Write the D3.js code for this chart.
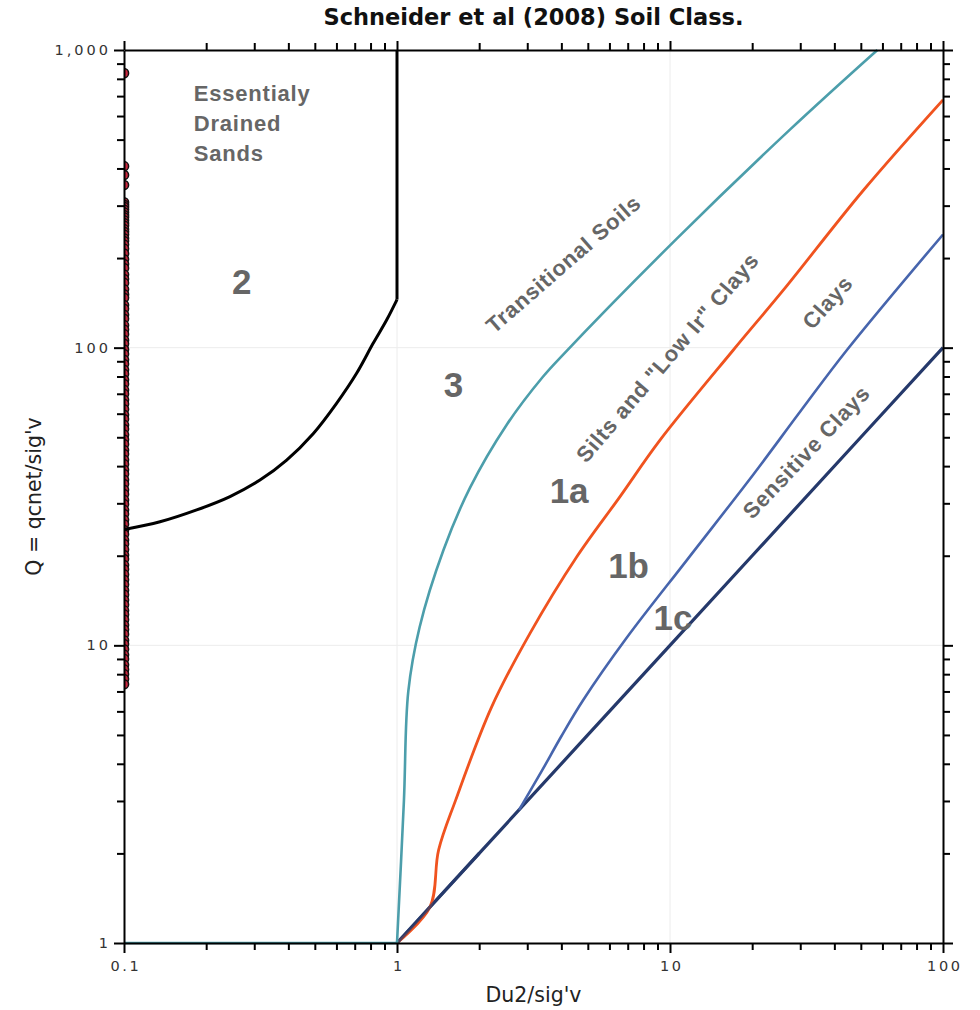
<!DOCTYPE html>
<html>
<head>
<meta charset="utf-8">
<script src="https://cdn.jsdelivr.net/npm/d3@7/dist/d3.min.js"></script>
<style>
  html, body { margin: 0; padding: 0; background: #fff; }
  svg { display: block; }
</style>
</head>
<body>
<svg id="chart" width="980" height="1010"></svg>
<script>
// ---- Axis tick values and labels ----
const xTickValues = [0.1, 1, 10, 100];
const xTickLabels = ["0.1", "1", "10", "100"];
const yTickValues = [1, 10, 100, 1000];
const yTickLabels = ["1", "10", "100", "1,000"];

// ---- Zone boundaries (x = Du2/sig'v, q = Q) ----
// Boundary of zone 2 (essentially drained sands)
const sandBoundaryX = [0.1, 0.1355, 0.1846, 0.2445, 0.3148, 0.3943, 0.494, 0.6007, 0.7113, 0.8178, 0.9162, 1.0];
const sandBoundaryQ = [24.5, 26.0, 28.5, 31.6, 35.9, 41.9, 51.5, 65.0, 82.0, 103.4, 123.8, 145];
const sandWallX = [1, 1];
const sandWallQ = [145, 1000];

// Zone 3 / 1a : transitional soils boundary (flat base, then the curve)
const transitionalBaseX = [0.1, 1.0];
const transitionalBaseQ = [1, 1];
const transitionalX = [1.0, 1.06, 1.1, 1.21, 1.48, 1.85, 2.52, 3.43, 4.07, 10.57, 27.5, 57.5];
const transitionalQ = [1, 3.0, 7.0, 11.5, 20.9, 33.8, 55.0, 80, 95, 232, 540, 1000];

// Zone 1a / 1b : silts and "low Ir" clays boundary
const siltsX = [1.0, 1.32, 1.42, 1.64, 2.22, 3.07, 4.55, 6.56, 9.19, 17.06, 26.0, 51.1, 100];
const siltsQ = [1.0, 1.32, 2.05, 3.02, 6.2, 10.97, 19.8, 31.6, 48.9, 98.2, 156, 338, 680];

// Zone 1b / 1c : clays boundary
const claysX = [2.8, 3.4, 4.0, 4.81, 6.94, 11.51, 20.2, 30, 44.4, 100];
const claysQ = [2.8, 3.8, 4.95, 6.55, 10.6, 19.3, 37.5, 61, 98, 240];

// Lower limit of zone 1c : sensitive clays
const sensitiveX = [1, 2, 5, 10, 20, 50, 100];
const sensitiveQ = [1, 2, 5, 10, 20, 50, 100];

// ---- Measured CPT points ----
const dataQ = [836, 407, 380, 352,
  308, 302, 297, 291, 285, 279, 274, 268, 262, 257, 250, 245, 240, 233, 228, 222,
  215, 207, 198, 191, 185, 176, 170,
  165, 157, 151, 147, 139, 135, 129, 125, 119, 115, 111, 106, 103, 98.5, 95.2, 91.0,
  88.1, 84.3, 81.6, 78.0, 75.5, 72.1, 69.9, 66.8, 64.7, 62.1, 59.5, 57.6, 55.0, 53.3,
  51.0, 49.1, 47.4, 45.3, 43.9, 42.0, 40.6, 38.9, 37.6, 36.0, 34.8, 33.3, 32.2, 30.8,
  29.8, 28.5, 27.6, 26.4, 25.5, 24.4, 23.6, 22.6, 21.9, 21.0, 20.1, 19.5, 18.6, 18.0,
  17.3, 16.6, 16.0, 15.3, 14.8, 14.2, 13.7, 13.1, 12.7, 12.2, 11.7, 11.3, 10.9, 10.4,
  10.1, 9.7, 9.3, 9.0, 8.6, 8.3, 8.0, 7.7, 7.4];
const dataX = dataQ.map(() => 0.1);

// ---- Region labels ----
const zoneNumbers = [
  { text: "2", x: 0.27, q: 167 },
  { text: "3", x: 1.61, q: 75 },
  { text: "1a", x: 4.27, q: 33.2 },
  { text: "1b", x: 7.05, q: 18.6 },
  { text: "1c", x: 10.25, q: 12.4 }
];
const drainedLines = ["Essentialy", "Drained", "Sands"];
const zoneNames = [
  { text: "Transitional Soils", x: 4.07, q: 191, angle: -41 },
  { text: "Silts and \"Low Ir\" Clays", x: 9.79, q: 92.6, angle: -49.4 },
  { text: "Clays", x: 37.8, q: 142, angle: -48 },
  { text: "Sensitive Clays", x: 31.6, q: 44.6, angle: -46.6 }
];

// ---- Layout ----
const svg = d3.select("#chart");
const plotLeft = 124, plotRight = 943, plotTop = 50, plotBottom = 943;

const x = d3.scaleLog().domain([0.1, 100]).range([plotLeft, plotRight]);
const y = d3.scaleLog().domain([1, 1000]).range([plotBottom, plotTop]);

const zip = (xs, qs) => xs.map((v, i) => ({ x: v, q: qs[i] }));

// faint decade grid
const gridG = svg.append("g").attr("stroke", "#ececec").attr("stroke-width", 1);
gridG.selectAll("line.gx").data(xTickValues.slice(1, -1)).join("line").attr("class", "gx")
  .attr("x1", d => x(d)).attr("x2", d => x(d)).attr("y1", plotTop).attr("y2", plotBottom);
gridG.selectAll("line.gy").data(yTickValues.slice(1, -1)).join("line").attr("class", "gy")
  .attr("y1", d => y(d)).attr("y2", d => y(d)).attr("x1", plotLeft).attr("x2", plotRight);

// clip region for plotted marks
svg.append("defs").append("clipPath").attr("id", "plotClip")
  .append("rect").attr("x", plotLeft).attr("y", plotTop - 2)
  .attr("width", plotRight - plotLeft).attr("height", plotBottom - plotTop + 4);

const plot = svg.append("g").attr("clip-path", "url(#plotClip)");

const lineSmooth = d3.line().x(d => x(d.x)).y(d => y(d.q)).curve(d3.curveCatmullRom.alpha(0.5));
const lineLin = d3.line().x(d => x(d.x)).y(d => y(d.q));

// measured points (half hidden by the left edge)
plot.append("g").selectAll("circle").data(zip(dataX, dataQ)).join("circle")
  .attr("cx", d => x(d.x)).attr("cy", d => y(d.q)).attr("r", 4.6)
  .attr("fill", "#c9283f").attr("stroke", "#111").attr("stroke-width", 1.5);

// zone boundaries
plot.append("path").datum(zip(sensitiveX, sensitiveQ)).attr("d", lineLin)
  .attr("fill", "none").attr("stroke", "#25396b").attr("stroke-width", 3.2);
plot.append("path").datum(zip(claysX, claysQ)).attr("d", lineSmooth)
  .attr("fill", "none").attr("stroke", "#4765ad").attr("stroke-width", 2.6);
plot.append("path").datum(zip(siltsX, siltsQ)).attr("d", lineSmooth)
  .attr("fill", "none").attr("stroke", "#f0531f").attr("stroke-width", 2.8);
// shared start of the sensitive clay line drawn again on top
plot.append("path").datum(zip(sensitiveX, sensitiveQ).slice(0, 2)).attr("d", lineLin)
  .attr("fill", "none").attr("stroke", "#25396b").attr("stroke-width", 3.2).attr("opacity", 0.75);
plot.append("path").datum(zip(transitionalBaseX, transitionalBaseQ)).attr("d", lineLin)
  .attr("fill", "none").attr("stroke", "#4c9eab").attr("stroke-width", 2.6);
plot.append("path").datum(zip(transitionalX, transitionalQ)).attr("d", lineSmooth)
  .attr("fill", "none").attr("stroke", "#4c9eab").attr("stroke-width", 2.6);
plot.append("path").datum(zip(sandBoundaryX, sandBoundaryQ)).attr("d", lineSmooth)
  .attr("fill", "none").attr("stroke", "#000").attr("stroke-width", 3);
plot.append("path").datum(zip(sandWallX, sandWallQ)).attr("d", lineLin)
  .attr("fill", "none").attr("stroke", "#000").attr("stroke-width", 3);

// ---- Axes ----
const minorX = [];
[0.1, 1, 10].forEach(d => { for (let k = 2; k <= 9; k++) minorX.push(d * k); });
const minorY = [];
[1, 10, 100].forEach(d => { for (let k = 2; k <= 9; k++) minorY.push(d * k); });

function styleAxis(g) {
  g.select(".domain").attr("stroke", "#000").attr("stroke-width", 2);
  g.selectAll(".tick line").attr("stroke", "#000").attr("stroke-width", 2);
}
function minorStyle(g) {
  g.select(".domain").remove();
  g.selectAll(".tick line").attr("stroke", "#000").attr("stroke-width", 2);
}

const tickFont = "DejaVu Sans, Verdana, sans-serif";

// bottom
const bx = svg.append("g").attr("transform", `translate(0,${plotBottom})`)
  .call(d3.axisBottom(x).tickValues(xTickValues).tickSizeInner(10).tickSizeOuter(0)
    .tickFormat((d, i) => xTickLabels[i]).tickPadding(8));
styleAxis(bx);
bx.selectAll("text").attr("font-family", tickFont).attr("font-size", 14.5)
  .attr("letter-spacing", "2.6px").attr("fill", "#333").attr("dx", "1.3px");
svg.append("g").attr("transform", `translate(0,${plotBottom})`)
  .call(d3.axisBottom(x).tickValues(minorX).tickSizeInner(7).tickSizeOuter(0).tickFormat(""))
  .call(minorStyle);

// top
const tx = svg.append("g").attr("transform", `translate(0,${plotTop})`)
  .call(d3.axisTop(x).tickValues(xTickValues).tickSizeInner(9).tickSizeOuter(0).tickFormat(""));
styleAxis(tx);
svg.append("g").attr("transform", `translate(0,${plotTop})`)
  .call(d3.axisTop(x).tickValues(minorX).tickSizeInner(7).tickSizeOuter(0).tickFormat(""))
  .call(minorStyle);

// left
const ly = svg.append("g").attr("transform", `translate(${plotLeft},0)`)
  .call(d3.axisLeft(y).tickValues(yTickValues).tickSizeInner(10).tickSizeOuter(0)
    .tickFormat((d, i) => yTickLabels[i]).tickPadding(6));
styleAxis(ly);
ly.selectAll("text").attr("font-family", tickFont).attr("font-size", 14.5)
  .attr("letter-spacing", "3px").attr("fill", "#333").attr("dx", "3px");
svg.append("g").attr("transform", `translate(${plotLeft},0)`)
  .call(d3.axisLeft(y).tickValues(minorY).tickSizeInner(7).tickSizeOuter(0).tickFormat(""))
  .call(minorStyle);

// right
const ry = svg.append("g").attr("transform", `translate(${plotRight},0)`)
  .call(d3.axisRight(y).tickValues(yTickValues).tickSizeInner(10).tickSizeOuter(0).tickFormat(""));
styleAxis(ry);
svg.append("g").attr("transform", `translate(${plotRight},0)`)
  .call(d3.axisRight(y).tickValues(minorY).tickSizeInner(7).tickSizeOuter(0).tickFormat(""))
  .call(minorStyle);

// ---- Titles ----
svg.append("text").attr("x", (plotLeft + plotRight) / 2).attr("y", 25)
  .attr("text-anchor", "middle").attr("font-family", tickFont).attr("font-weight", "bold")
  .attr("font-size", 22.5).attr("fill", "#111").text("Schneider et al (2008) Soil Class.");

svg.append("text").attr("x", (plotLeft + plotRight) / 2).attr("y", 1002)
  .attr("text-anchor", "middle").attr("font-family", tickFont)
  .attr("font-size", 20.5).attr("fill", "#222").text("Du2/sig'v");

svg.append("text").attr("transform", `translate(41,${(plotTop + plotBottom) / 2}) rotate(-90)`)
  .attr("text-anchor", "middle").attr("font-family", tickFont)
  .attr("font-size", 20.5).attr("fill", "#222").text("Q = qcnet/sig'v");

// ---- Zone labels ----
const labelFont = "Liberation Sans, Arial, sans-serif";
const labelColor = "#666";

svg.append("g").selectAll("text").data(drainedLines).join("text")
  .attr("x", x(0.18)).attr("y", (d, i) => 101 + i * 30)
  .attr("font-family", labelFont).attr("font-weight", "bold").attr("font-size", 22)
  .attr("letter-spacing", "0.8px").attr("fill", labelColor).text(d => d);

svg.append("g").selectAll("text").data(zoneNumbers).join("text")
  .attr("x", d => x(d.x)).attr("y", d => y(d.q))
  .attr("text-anchor", "middle").attr("dominant-baseline", "central")
  .attr("font-family", labelFont).attr("font-weight", "bold").attr("font-size", 35)
  .attr("fill", labelColor).text(d => d.text);

svg.append("g").selectAll("text").data(zoneNames).join("text")
  .attr("transform", d => `translate(${x(d.x)},${y(d.q)}) rotate(${d.angle})`)
  .attr("text-anchor", "middle").attr("dominant-baseline", "central")
  .attr("font-family", labelFont).attr("font-weight", "bold").attr("font-size", 22)
  .attr("letter-spacing", "0.8px").attr("fill", labelColor).text(d => d.text);
</script>
</body>
</html>
